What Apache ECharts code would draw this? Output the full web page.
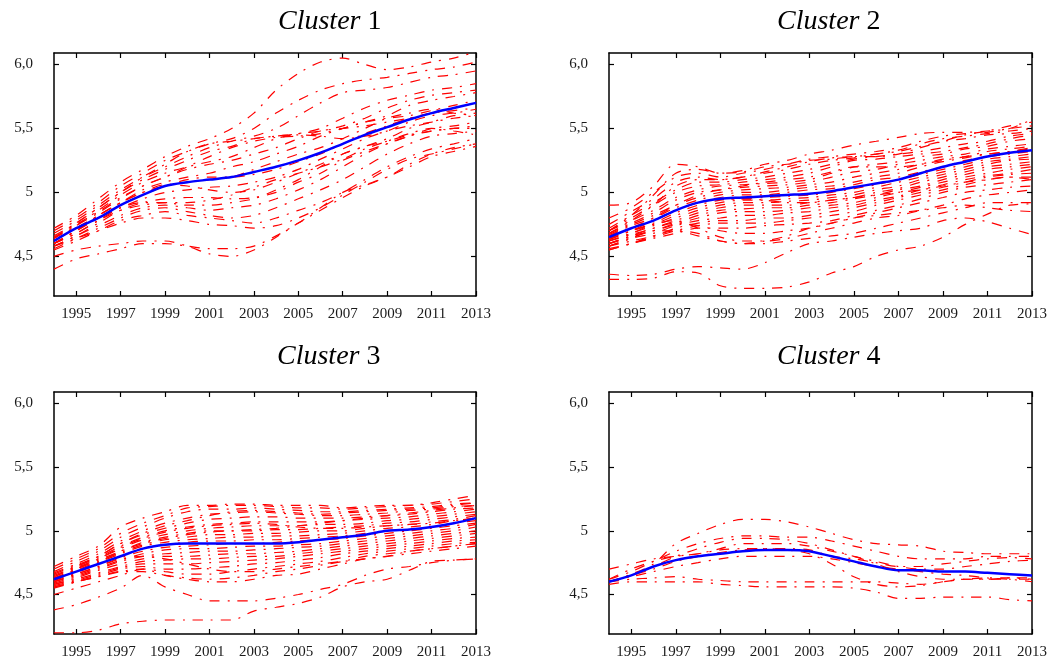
<!DOCTYPE html>
<html lang="en">
<head>
<meta charset="UTF-8">
<title>Clusters</title>
<script src="https://cdn.jsdelivr.net/npm/echarts@6/dist/echarts.min.js"></script>
<style>
  html, body { margin: 0; padding: 0; background: #fff; }
  #chart { width: 1050px; height: 663px; }
</style>
</head>
<body>
<div id="chart"></div>
<script>
// ---- data ----
var years = [1994,1995,1996,1997,1998,1999,2000,2001,2002,2003,2004,2005,2006,2007,2008,2009,2010,2011,2012,2013];
var yearTicks = [1995,1997,1999,2001,2003,2005,2007,2009,2011,2013];
var yTicks = [4.5, 5, 5.5, 6];
var yTickLabels = ['4,5', '5', '5,5', '6,0'];
var clusterNumbers = ['1', '2', '3', '4'];

var cluster1Mean = [4.62,4.72,4.8,4.9,4.98,5.05,5.08,5.1,5.12,5.16,5.2,5.25,5.31,5.38,5.45,5.51,5.57,5.62,5.66,5.7];
var cluster1Lines = [
  [4.72,4.82,4.95,5.08,5.18,5.28,5.36,5.42,5.5,5.62,5.8,5.93,6.02,6.05,6.0,5.96,5.98,6.02,6.05,6.1],
  [4.7,4.8,4.92,5.05,5.15,5.25,5.32,5.38,5.42,5.5,5.62,5.72,5.8,5.85,5.88,5.9,5.93,5.96,5.98,6.02],
  [4.68,4.78,4.9,5.02,5.12,5.2,5.28,5.35,5.4,5.44,5.5,5.6,5.7,5.78,5.8,5.82,5.86,5.9,5.92,5.95],
  [4.66,4.76,4.88,5.0,5.1,5.18,5.25,5.32,5.36,5.42,5.44,5.46,5.5,5.58,5.66,5.72,5.76,5.8,5.82,5.85],
  [4.65,4.75,4.85,4.96,5.05,5.12,5.2,5.28,5.35,5.4,5.43,5.44,5.46,5.5,5.55,5.6,5.68,5.72,5.75,5.78],
  [4.64,4.74,4.84,4.95,5.05,5.12,5.18,5.22,5.25,5.3,5.35,5.42,5.48,5.5,5.52,5.55,5.58,5.62,5.66,5.7],
  [4.62,4.72,4.82,4.92,5.02,5.08,5.12,5.15,5.2,5.24,5.3,5.36,5.44,5.5,5.55,5.58,5.6,5.64,5.68,5.72],
  [4.6,4.7,4.8,4.9,4.98,5.05,5.1,5.12,5.12,5.14,5.18,5.24,5.3,5.38,5.46,5.52,5.58,5.62,5.64,5.66],
  [4.62,4.72,4.82,4.92,5.0,5.06,5.05,5.02,5.0,5.02,5.08,5.15,5.22,5.3,5.36,5.42,5.5,5.55,5.6,5.62],
  [4.6,4.7,4.8,4.88,4.95,5.0,5.02,5.04,5.05,5.08,5.12,5.18,5.26,5.34,5.42,5.48,5.52,5.55,5.58,5.6],
  [4.58,4.66,4.76,4.86,4.92,4.95,4.96,4.96,4.95,4.96,5.0,5.08,5.15,5.25,5.32,5.38,5.44,5.5,5.52,5.55],
  [4.6,4.68,4.78,4.88,4.92,4.92,4.9,4.9,4.92,4.95,5.02,5.1,5.2,5.3,5.36,5.4,5.45,5.48,5.5,5.52],
  [4.58,4.66,4.74,4.82,4.88,4.9,4.88,4.86,4.88,4.9,4.95,5.02,5.1,5.2,5.3,5.38,5.44,5.48,5.5,5.5],
  [4.56,4.64,4.72,4.8,4.86,4.88,4.85,4.82,4.8,4.82,4.88,4.95,5.02,5.1,5.2,5.3,5.38,5.44,5.46,5.48],
  [4.6,4.7,4.82,4.92,5.0,5.05,5.08,5.1,5.12,5.18,5.24,5.3,5.35,5.42,5.5,5.58,5.62,5.65,5.62,5.6],
  [4.55,4.62,4.7,4.78,4.82,4.85,4.82,4.8,4.78,4.76,4.8,4.86,4.92,5.0,5.1,5.2,5.28,5.34,5.38,5.42],
  [4.58,4.64,4.7,4.76,4.8,4.8,4.78,4.75,4.74,4.72,4.74,4.8,4.88,4.98,5.08,5.18,5.26,5.3,5.34,5.38],
  [4.5,4.55,4.58,4.6,4.62,4.62,4.58,4.52,4.5,4.55,4.65,4.76,4.86,4.96,5.05,5.12,5.2,5.28,5.32,5.36],
  [4.4,4.48,4.52,4.56,4.6,4.6,4.58,4.56,4.56,4.58,4.66,4.76,4.88,5.0,5.06,5.12,5.22,5.3,5.35,5.38],
  [4.62,4.74,4.86,4.98,5.08,5.15,5.2,5.24,5.28,5.35,5.42,5.46,5.48,5.52,5.58,5.66,5.72,5.76,5.78,5.8],
  [4.64,4.76,4.88,5.0,5.12,5.22,5.32,5.38,5.4,5.42,5.44,5.45,5.44,5.42,5.44,5.48,5.55,5.6,5.62,5.65],
  [4.6,4.68,4.78,4.86,4.9,4.92,4.92,4.94,4.98,5.04,5.1,5.15,5.2,5.26,5.34,5.4,5.46,5.5,5.48,5.45]
];

var cluster2Mean = [4.65,4.72,4.78,4.86,4.92,4.95,4.96,4.97,4.98,4.99,5.01,5.04,5.07,5.1,5.15,5.2,5.24,5.28,5.31,5.33];
var cluster2Lines = [
  [4.9,4.92,5.05,5.22,5.2,5.15,5.17,5.22,5.25,5.3,5.33,5.37,5.4,5.43,5.46,5.47,5.47,5.48,5.5,5.57],
  [4.8,4.88,5.0,5.12,5.15,5.12,5.15,5.18,5.22,5.26,5.28,5.3,5.32,5.35,5.4,5.44,5.46,5.47,5.5,5.52],
  [4.75,4.85,4.95,5.08,5.12,5.1,5.12,5.15,5.18,5.22,5.25,5.27,5.3,5.32,5.36,5.4,5.42,5.45,5.46,5.48],
  [4.72,4.82,4.92,5.02,5.08,5.08,5.1,5.12,5.15,5.18,5.22,5.26,5.28,5.3,5.32,5.35,5.38,5.4,5.44,5.46],
  [4.7,4.8,4.9,5.0,5.05,5.06,5.08,5.1,5.12,5.15,5.2,5.25,5.26,5.28,5.3,5.32,5.35,5.38,5.42,5.45],
  [4.7,4.78,4.86,4.96,5.02,5.05,5.06,5.07,5.08,5.1,5.15,5.2,5.22,5.24,5.28,5.3,5.34,5.36,5.4,5.42],
  [4.68,4.76,4.84,4.94,5.0,5.02,5.04,5.05,5.06,5.08,5.12,5.16,5.18,5.22,5.25,5.28,5.3,5.34,5.36,5.38],
  [4.67,4.75,4.82,4.9,4.96,5.0,5.02,5.03,5.04,5.06,5.08,5.12,5.15,5.18,5.22,5.26,5.28,5.3,5.32,5.35],
  [4.66,4.74,4.8,4.88,4.94,4.98,5.0,5.0,5.02,5.04,5.05,5.08,5.12,5.15,5.2,5.24,5.27,5.3,5.32,5.34],
  [4.65,4.72,4.78,4.86,4.92,4.96,4.98,4.98,5.0,5.02,5.03,5.06,5.1,5.12,5.16,5.2,5.25,5.28,5.3,5.32],
  [4.64,4.7,4.76,4.84,4.9,4.94,4.95,4.96,4.97,4.98,5.0,5.03,5.06,5.1,5.14,5.18,5.22,5.26,5.28,5.3],
  [4.63,4.7,4.75,4.82,4.88,4.92,4.94,4.94,4.95,4.96,4.98,5.0,5.04,5.08,5.12,5.16,5.2,5.24,5.26,5.28],
  [4.62,4.68,4.74,4.8,4.86,4.9,4.92,4.92,4.93,4.94,4.96,4.98,5.02,5.05,5.1,5.14,5.18,5.22,5.25,5.26],
  [4.62,4.67,4.72,4.78,4.84,4.88,4.9,4.9,4.9,4.92,4.94,4.96,5.0,5.03,5.08,5.12,5.16,5.2,5.22,5.24],
  [4.6,4.66,4.7,4.76,4.82,4.86,4.87,4.88,4.88,4.9,4.92,4.95,4.98,5.02,5.05,5.1,5.14,5.18,5.2,5.22],
  [4.6,4.65,4.7,4.75,4.8,4.84,4.85,4.85,4.86,4.88,4.9,4.92,4.96,5.0,5.04,5.08,5.12,5.15,5.18,5.2],
  [4.58,4.64,4.68,4.74,4.78,4.8,4.82,4.82,4.84,4.85,4.88,4.9,4.94,4.97,5.02,5.06,5.1,5.13,5.15,5.18],
  [4.58,4.62,4.66,4.72,4.76,4.78,4.78,4.8,4.8,4.82,4.85,4.88,4.92,4.96,5.0,5.04,5.08,5.12,5.14,5.15],
  [4.56,4.6,4.65,4.7,4.74,4.76,4.76,4.76,4.78,4.8,4.82,4.85,4.9,4.94,4.98,5.02,5.06,5.1,5.12,5.12],
  [4.55,4.6,4.64,4.68,4.72,4.72,4.72,4.74,4.75,4.76,4.78,4.82,4.86,4.9,4.95,5.0,5.04,5.06,5.08,5.1],
  [4.6,4.66,4.72,4.76,4.74,4.7,4.68,4.68,4.7,4.72,4.76,4.8,4.84,4.88,4.92,4.96,5.0,5.02,5.04,5.05],
  [4.62,4.68,4.75,4.78,4.72,4.65,4.62,4.62,4.64,4.68,4.72,4.76,4.8,4.82,4.86,4.9,4.95,4.98,5.0,5.02],
  [4.58,4.64,4.7,4.7,4.66,4.62,4.6,4.6,4.62,4.64,4.66,4.68,4.72,4.76,4.8,4.84,4.88,4.92,4.92,4.92],
  [4.68,4.78,4.9,5.05,5.1,5.1,5.12,5.16,5.2,5.24,5.27,5.28,5.3,5.33,5.38,5.42,5.44,5.46,5.48,5.5],
  [4.64,4.72,4.8,4.9,4.98,5.02,5.05,5.08,5.1,5.12,5.16,5.2,5.2,5.2,5.22,5.25,5.28,5.32,5.34,5.36],
  [4.63,4.7,4.78,4.86,4.92,4.95,4.95,4.94,4.92,4.92,4.94,4.96,4.98,5.0,5.02,5.05,5.08,5.1,5.12,5.1],
  [4.36,4.35,4.36,4.4,4.42,4.41,4.4,4.45,4.53,4.6,4.62,4.65,4.68,4.7,4.72,4.78,4.8,4.77,4.72,4.67],
  [4.32,4.32,4.33,4.38,4.37,4.27,4.25,4.25,4.26,4.3,4.37,4.42,4.5,4.55,4.58,4.65,4.75,4.83,4.9,4.91],
  [4.55,4.6,4.66,4.7,4.68,4.62,4.6,4.62,4.66,4.72,4.76,4.8,4.82,4.84,4.86,4.88,4.9,4.88,4.86,4.85],
  [4.7,4.82,4.98,5.15,5.18,5.15,5.16,5.2,5.22,5.25,5.26,5.28,5.28,5.3,5.35,5.4,5.45,5.48,5.52,5.55]
];

var cluster3Mean = [4.62,4.68,4.74,4.8,4.86,4.89,4.9,4.9,4.9,4.9,4.9,4.91,4.93,4.95,4.97,5.0,5.01,5.03,5.06,5.1];
var cluster3Lines = [
  [4.72,4.8,4.88,5.03,5.1,5.15,5.2,5.2,5.21,5.21,5.2,5.2,5.2,5.18,5.19,5.2,5.2,5.22,5.25,5.28],
  [4.7,4.78,4.86,4.98,5.06,5.12,5.18,5.19,5.2,5.2,5.19,5.18,5.18,5.17,5.18,5.19,5.2,5.21,5.23,5.25],
  [4.68,4.76,4.84,4.95,5.03,5.1,5.15,5.17,5.17,5.18,5.17,5.16,5.15,5.15,5.16,5.17,5.18,5.19,5.21,5.22],
  [4.67,4.74,4.82,4.92,5.0,5.06,5.1,5.13,5.14,5.15,5.14,5.13,5.12,5.12,5.13,5.14,5.16,5.17,5.19,5.2],
  [4.66,4.73,4.8,4.9,4.97,5.02,5.06,5.09,5.1,5.11,5.11,5.1,5.1,5.1,5.11,5.12,5.13,5.15,5.17,5.18],
  [4.65,4.72,4.79,4.88,4.95,5.0,5.03,5.05,5.06,5.07,5.07,5.07,5.07,5.08,5.09,5.1,5.11,5.13,5.15,5.17],
  [4.64,4.71,4.78,4.86,4.93,4.97,5.0,5.02,5.03,5.04,5.04,5.04,5.05,5.05,5.06,5.08,5.09,5.11,5.13,5.15],
  [4.63,4.7,4.77,4.84,4.91,4.95,4.98,5.0,5.0,5.0,5.01,5.01,5.02,5.03,5.04,5.06,5.07,5.09,5.11,5.13],
  [4.63,4.69,4.76,4.83,4.89,4.93,4.95,4.97,4.97,4.98,4.98,4.99,5.0,5.0,5.02,5.04,5.05,5.07,5.09,5.12],
  [4.62,4.68,4.75,4.82,4.88,4.91,4.93,4.94,4.95,4.95,4.96,4.96,4.97,4.98,5.0,5.02,5.03,5.05,5.08,5.1],
  [4.61,4.67,4.74,4.8,4.86,4.89,4.91,4.92,4.92,4.93,4.93,4.94,4.95,4.96,4.98,5.0,5.01,5.03,5.06,5.08],
  [4.6,4.66,4.72,4.79,4.84,4.87,4.88,4.89,4.9,4.9,4.91,4.92,4.93,4.94,4.96,4.98,5.0,5.02,5.04,5.06],
  [4.6,4.65,4.71,4.77,4.82,4.85,4.86,4.86,4.87,4.88,4.88,4.89,4.9,4.92,4.94,4.96,4.98,5.0,5.02,5.05],
  [4.59,4.64,4.7,4.76,4.8,4.82,4.83,4.84,4.84,4.85,4.86,4.87,4.88,4.9,4.92,4.94,4.96,4.98,5.0,5.03],
  [4.58,4.63,4.69,4.74,4.78,4.8,4.8,4.81,4.82,4.82,4.83,4.84,4.86,4.88,4.9,4.92,4.94,4.96,4.98,5.0],
  [4.58,4.62,4.67,4.72,4.76,4.77,4.78,4.78,4.79,4.8,4.8,4.82,4.84,4.86,4.88,4.9,4.92,4.94,4.96,4.98],
  [4.57,4.61,4.66,4.71,4.74,4.74,4.74,4.75,4.76,4.77,4.78,4.8,4.82,4.84,4.86,4.88,4.9,4.92,4.94,4.95],
  [4.56,4.6,4.65,4.7,4.72,4.7,4.7,4.71,4.72,4.74,4.75,4.77,4.79,4.82,4.84,4.86,4.88,4.9,4.92,4.93],
  [4.55,4.6,4.64,4.68,4.7,4.68,4.66,4.66,4.68,4.7,4.72,4.74,4.76,4.79,4.82,4.84,4.86,4.88,4.9,4.91],
  [4.56,4.6,4.64,4.68,4.68,4.65,4.63,4.62,4.63,4.65,4.68,4.7,4.73,4.76,4.8,4.82,4.84,4.86,4.88,4.9],
  [4.5,4.55,4.6,4.65,4.7,4.65,4.62,4.6,4.6,4.62,4.65,4.66,4.7,4.74,4.78,4.8,4.84,4.86,4.88,4.9],
  [4.38,4.42,4.48,4.55,4.65,4.56,4.5,4.45,4.45,4.45,4.47,4.5,4.54,4.58,4.65,4.7,4.72,4.75,4.77,4.78],
  [4.2,4.2,4.22,4.27,4.29,4.3,4.3,4.3,4.3,4.37,4.4,4.43,4.48,4.56,4.6,4.62,4.69,4.76,4.77,4.78],
  [4.64,4.72,4.8,4.9,4.98,5.04,5.08,5.12,5.15,5.16,5.15,5.14,5.13,5.14,5.15,5.16,5.17,5.18,5.2,5.22],
  [4.62,4.7,4.78,4.87,4.94,4.99,5.02,5.04,5.05,5.06,5.05,5.03,5.02,5.02,5.03,5.04,5.05,5.06,5.08,5.1],
  [4.61,4.68,4.75,4.84,4.9,4.94,4.97,4.99,5.0,5.01,5.02,5.04,5.06,5.08,5.1,5.12,5.14,5.16,5.18,5.2],
  [4.6,4.66,4.72,4.78,4.8,4.78,4.74,4.7,4.68,4.68,4.7,4.72,4.74,4.76,4.78,4.8,4.82,4.84,4.86,4.88]
];

var cluster4Mean = [4.6,4.65,4.72,4.77,4.8,4.82,4.84,4.85,4.85,4.84,4.8,4.76,4.72,4.69,4.69,4.68,4.68,4.67,4.66,4.65];
var cluster4Lines = [
  [4.6,4.66,4.74,4.9,4.98,5.05,5.09,5.09,5.07,5.03,4.98,4.93,4.9,4.89,4.88,4.84,4.83,4.82,4.82,4.82],
  [4.62,4.68,4.76,4.84,4.9,4.94,4.96,4.96,4.95,4.95,4.92,4.88,4.84,4.8,4.78,4.78,4.78,4.8,4.8,4.8],
  [4.6,4.65,4.72,4.8,4.86,4.91,4.94,4.94,4.93,4.9,4.85,4.8,4.76,4.72,4.7,4.7,4.72,4.74,4.76,4.77],
  [4.58,4.6,4.6,4.6,4.6,4.58,4.57,4.56,4.56,4.56,4.56,4.55,4.52,4.47,4.47,4.48,4.48,4.48,4.46,4.45],
  [4.6,4.65,4.7,4.76,4.8,4.83,4.85,4.86,4.85,4.82,4.74,4.64,4.58,4.56,4.57,4.6,4.62,4.62,4.63,4.63],
  [4.62,4.7,4.76,4.8,4.82,4.86,4.9,4.9,4.9,4.88,4.84,4.8,4.74,4.68,4.64,4.62,4.62,4.62,4.62,4.62],
  [4.6,4.64,4.68,4.72,4.75,4.78,4.8,4.8,4.8,4.8,4.78,4.75,4.72,4.7,4.68,4.66,4.65,4.63,4.62,4.6],
  [4.6,4.62,4.63,4.64,4.62,4.61,4.6,4.6,4.6,4.6,4.6,4.6,4.6,4.59,4.58,4.6,4.62,4.63,4.63,4.62],
  [4.7,4.74,4.78,4.8,4.82,4.85,4.86,4.86,4.86,4.85,4.8,4.78,4.75,4.72,4.72,4.74,4.76,4.78,4.79,4.78]
];

var clusterMeans = [cluster1Mean, cluster2Mean, cluster3Mean, cluster4Mean];
var clusterLines = [cluster1Lines, cluster2Lines, cluster3Lines, cluster4Lines];

// ---- layout ----
var grids = [
  { left: 54, top: 53, width: 422, height: 243 },
  { left: 609, top: 53, width: 424, height: 243 },
  { left: 54, top: 392, width: 422, height: 242 },
  { left: 609, top: 392, width: 424, height: 242 }
];
var titlePos = [[278, 8], [777, 8], [277, 343], [777, 343]];

var serif = "'Liberation Serif', 'DejaVu Serif', serif";
var axisLineStyle = { color: '#000', width: 1.5 };

var myChart = echarts.init(document.getElementById('chart'));

var xAxes = [], yAxes = [], series = [], titles = [];
grids.forEach(function (g, k) {
  titles.push({
    text: '{i|Cluster} ' + clusterNumbers[k],
    left: titlePos[k][0],
    top: titlePos[k][1],
    padding: 0,
    textStyle: {
      fontFamily: serif, fontSize: 28, fontWeight: 'normal', color: '#000',
      rich: { i: { fontFamily: serif, fontSize: 28, fontStyle: 'italic', color: '#000' } }
    }
  });
  // bottom + top (mirror) x axes
  xAxes.push({
    type: 'value', gridIndex: k, position: 'bottom', min: 1994, max: 2013,
    axisLine: { show: true, lineStyle: axisLineStyle },
    axisTick: { show: true, inside: true, length: 5, customValues: yearTicks, lineStyle: { color: '#000', width: 1.2 } },
    axisLabel: { show: true, customValues: yearTicks, margin: 11, fontFamily: serif, fontSize: 15, color: '#1a1a1a',
      formatter: function (v) { return String(v); } },
    splitLine: { show: false }
  });
  xAxes.push({
    type: 'value', gridIndex: k, position: 'top', min: 1994, max: 2013,
    axisLine: { show: true, lineStyle: axisLineStyle },
    axisTick: { show: true, inside: true, length: 5, customValues: yearTicks, lineStyle: { color: '#000', width: 1.2 } },
    axisLabel: { show: false },
    splitLine: { show: false }
  });
  yAxes.push({
    type: 'value', gridIndex: k, position: 'left', min: 4.19, max: 6.09,
    axisLine: { show: true, lineStyle: axisLineStyle },
    axisTick: { show: true, inside: true, length: 5, customValues: yTicks, lineStyle: { color: '#000', width: 1.2 } },
    axisLabel: { show: true, customValues: yTicks, margin: 21, fontFamily: serif, fontSize: 15, color: '#1a1a1a',
      formatter: function (v) {
        var i = yTicks.indexOf(v);
        return i >= 0 ? yTickLabels[i] : String(v).replace('.', ',');
      } },
    splitLine: { show: false }
  });
  yAxes.push({
    type: 'value', gridIndex: k, position: 'right', min: 4.19, max: 6.09,
    axisLine: { show: true, lineStyle: axisLineStyle },
    axisTick: { show: true, inside: true, length: 5, customValues: yTicks, lineStyle: { color: '#000', width: 1.2 } },
    axisLabel: { show: false },
    splitLine: { show: false }
  });

  clusterLines[k].forEach(function (vals) {
    series.push({
      type: 'line', xAxisIndex: 2 * k, yAxisIndex: 2 * k,
      data: years.map(function (y, i) { return [y, vals[i]]; }),
      symbol: 'none', smooth: 0.3, silent: true,
      lineStyle: { color: '#ff0000', width: 1.2, type: [10, 8, 2, 8] },
      z: 2
    });
  });
  series.push({
    type: 'line', xAxisIndex: 2 * k, yAxisIndex: 2 * k,
    data: years.map(function (y, i) { return [y, clusterMeans[k][i]]; }),
    symbol: 'none', smooth: 0.3, silent: true,
    lineStyle: { color: '#0000ff', width: 2.5 },
    z: 3
  });
});

var option = {
  animation: false,
  backgroundColor: '#fff',
  title: titles,
  grid: grids,
  xAxis: xAxes,
  yAxis: yAxes,
  series: series
};
myChart.setOption(option);
</script>
</body>
</html>
